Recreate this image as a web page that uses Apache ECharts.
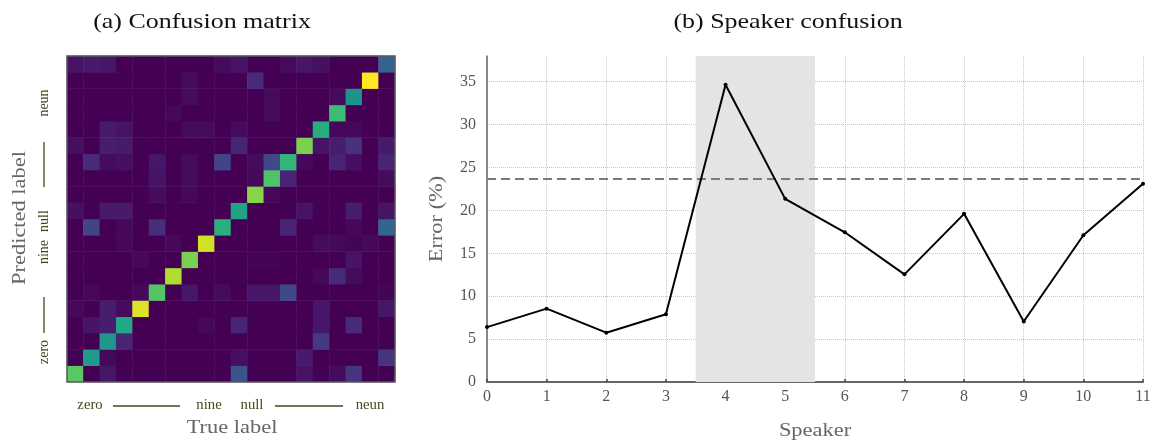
<!DOCTYPE html>
<html>
<head>
<meta charset="utf-8">
<style>
  html, body { margin: 0; padding: 0; background: #fff; }
  #chart { width: 1156px; height: 443px; }
</style>
<script src="https://cdn.jsdelivr.net/npm/echarts@6/dist/echarts.min.js"></script>
</head>
<body>
<div id="chart"></div>
<script>
// Confusion matrix: one row per predicted class (bottom row = class 0), one value per true class.
const confusionRows = [
  [0.74,0,0.06,0,0,0,0,0,0,0,0.26,0,0,0,0.05,0,0.03,0.15,0,0],
  [0,0.54,0.02,0,0,0,0,0,0,0,0.04,0,0,0,0.07,0,0,0,0,0.15],
  [0,0,0.52,0.1,0,0,0,0,0,0,0,0,0,0,0,0.17,0,0,0,0],
  [0,0.05,0.08,0.6,0,0,0,0,0.02,0,0.1,0,0,0,0,0.06,0,0.12,0,0],
  [0.02,0,0.08,0.03,0.95,0,0,0,0,0,0,0,0,0,0,0.06,0,0,0,0.06],
  [0,0.02,0,0,0.02,0.73,0,0.06,0,0.03,0,0.06,0.06,0.22,0,0,0,0,0,0.01],
  [0,0,0,0,0,0,0.88,0,0,0,0,0,0,0,0,0.02,0.12,0.03,0,0],
  [0,0,0,0,0.02,0,0,0.8,0,0,0,0.01,0.01,0,0,0,0,0.05,0,0],
  [0,0,0,0.02,0,0,0.02,0,0.93,0,0,0,0,0,0,0.03,0.02,0.01,0.02,0],
  [0,0.2,0,0.02,0,0.13,0,0,0,0.63,0,0,0,0.1,0,0,0,0.02,0,0.33],
  [0.04,0,0.07,0.07,0,0,0,0,0,0,0.58,0,0,0,0.05,0,0,0.08,0,0.05],
  [0,0,0,0,0,0.03,0,0.02,0,0,0,0.82,0.02,0,0,0,0,0,0,0],
  [0,0,0,0,0,0.05,0,0.03,0,0,0,0.02,0.72,0.1,0,0,0,0,0,0.03],
  [0,0.12,0.03,0.04,0,0.06,0,0.03,0,0.2,0,0.03,0.22,0.65,0.02,0,0.1,0.04,0,0.1],
  [0.04,0,0.08,0.07,0,0,0,0,0,0,0.1,0,0,0,0.8,0.05,0.08,0.14,0,0.07],
  [0,0,0.07,0.05,0,0,0,0.03,0.03,0,0.03,0,0,0,0,0.62,0.02,0.02,0,0],
  [0,0,0,0,0,0,0.02,0,0,0,0,0,0.03,0,0,0,0.68,0,0,0],
  [0,0,0,0,0,0,0,0.03,0,0,0,0,0.03,0,0,0,0.03,0.5,0,0],
  [0,0,0,0,0,0,0,0.03,0,0,0,0.12,0,0,0,0,0,0,1.0,0],
  [0.05,0.07,0.06,0,0,0,0,0,0,0.03,0.05,0,0,0.03,0.06,0.04,0,0,0,0.32]
];
const classNames = ['zero','nine','null','neun'];

// Speaker confusion
const speakers = [0,1,2,3,4,5,6,7,8,9,10,11];
const speakerError = [6.4,8.55,5.75,7.9,34.65,21.35,17.45,12.55,19.6,7.05,17.1,23.1];
const referenceError = 23.75;
const highlightSpeakers = [3.5, 5.5];
const errorTicks = [0,5,10,15,20,25,30,35];

const viridis = ['#440154','#482475','#414487','#355f8d','#2a788e','#21918c',
                 '#22a884','#44bf70','#7ad151','#bddf26','#fde725'];

const nClasses = confusionRows.length;
const classIdx = Array.from({length: nClasses}, (_, i) => String(i));
const heatData = [];
confusionRows.forEach((row, p) => row.forEach((v, t) => heatData.push([t, p, v])));

const serif = 'Liberation Serif';
const labelInk = '#46461f';
const greyInk = '#666';
const WIDE = 1.18;   // widen the serif glyphs a little along the reading direction

// Matrix panel geometry
const M = { left: 67, top: 56, width: 328, height: 326 };

function hLine(x1, x2, y) {
  return { type: 'line', silent: true, z: 10,
    shape: { x1, y1: y, x2, y2: y }, style: { stroke: labelInk, lineWidth: 1.3 } };
}
function vLine(x, y1, y2) {
  return { type: 'line', silent: true, z: 10,
    shape: { x1: x, y1, x2: x, y2 }, style: { stroke: labelInk, lineWidth: 1.3 } };
}
function txt(text, x, y, size, fill, rotated, widen) {
  return { type: 'text', silent: true, z: 10, x, y,
    rotation: rotated ? Math.PI / 2 : 0, scaleX: widen || WIDE, scaleY: 1,
    style: { text, align: 'center', verticalAlign: 'middle',
      font: size + 'px "' + serif + '"', fill } };
}

const chart = echarts.init(document.getElementById('chart'), null, { renderer: 'canvas' });
chart.setOption({
  animation: false,
  backgroundColor: '#fff',
  grid: [
    { left: M.left, top: M.top, width: M.width, height: M.height },
    { left: 487, right: 13, top: 56, bottom: 61 }
  ],
  visualMap: {
    show: false, seriesIndex: 0, min: 0, max: 1,
    inRange: { color: viridis }
  },
  xAxis: [
    { type: 'category', gridIndex: 0, data: classIdx, show: false },
    { type: 'value', gridIndex: 1, min: 0, max: 11, interval: 1,
      axisLine: { show: true, lineStyle: { color: '#666', width: 2 } },
      axisTick: { show: true, inside: true, length: 3, lineStyle: { color: '#444', width: 1.5 } },
      axisLabel: { fontFamily: serif, fontSize: 16, color: '#555', margin: 7 },
      splitLine: { show: true, lineStyle: { color: '#c8c8c8', type: 'dotted', width: 1 } }
    }
  ],
  yAxis: [
    { type: 'category', gridIndex: 0, data: classIdx, show: false },
    { type: 'value', gridIndex: 1, min: 0, max: 38, interval: 5,
      axisLine: { show: true, lineStyle: { color: '#666', width: 1.5 } },
      axisTick: { show: false },
      axisLabel: { fontFamily: serif, fontSize: 16, color: '#555', margin: 11,
        showMaxLabel: false,
        formatter: v => (errorTicks.indexOf(v) >= 0 ? String(v) : '') },
      splitLine: { show: true, showMaxLine: false,
        lineStyle: { color: '#c8c8c8', type: 'dotted', width: 1 } }
    }
  ],
  series: [
    {
      type: 'heatmap', xAxisIndex: 0, yAxisIndex: 0,
      data: heatData, silent: true,
      itemStyle: { borderWidth: 0 },
      emphasis: { disabled: true }
    },
    {
      type: 'line', xAxisIndex: 1, yAxisIndex: 1,
      data: speakers.map((s, i) => [s, speakerError[i]]),
      symbol: 'circle', symbolSize: 4, showSymbol: true,
      lineStyle: { color: '#000', width: 2 },
      itemStyle: { color: '#000' },
      silent: true, z: 5,
      markArea: {
        silent: true,
        itemStyle: { color: '#e4e4e4' },
        data: [[{ xAxis: highlightSpeakers[0] }, { xAxis: highlightSpeakers[1] }]]
      },
      markLine: {
        silent: true, symbol: 'none', label: { show: false },
        lineStyle: { color: '#7a7a7a', type: [9, 5], width: 2 },
        data: [{ yAxis: referenceError }]
      }
    }
  ],
  graphic: [
    // panel titles
    txt('(a) Confusion matrix', 202, 22, 22, '#111'),
    txt('(b) Speaker confusion', 788, 22, 22, '#111'),
    // frame around the matrix
    { type: 'rect', silent: true, z: 20,
      shape: { x: M.left, y: M.top, width: M.width, height: M.height },
      style: { fill: 'none', stroke: '#5c5c5c', lineWidth: 1.5 } },
    // true-label ticks along the bottom
    txt(classNames[0], 90, 405, 14, labelInk, false, 1.05),
    hLine(113, 180, 406),
    txt(classNames[1], 209, 405, 14, labelInk, false, 1.05),
    txt(classNames[2], 252, 405, 14, labelInk, false, 1.05),
    hLine(275, 343, 406),
    txt(classNames[3], 370, 405, 14, labelInk, false, 1.05),
    txt('True label', 232, 428, 19, greyInk),
    // predicted-label ticks along the left side
    txt(classNames[0], 44, 352, 14, labelInk, true, 1),
    vLine(44, 297, 333),
    txt(classNames[1], 44, 252, 14, labelInk, true, 1),
    txt(classNames[2], 44, 221, 14, labelInk, true, 1),
    vLine(44, 142, 187),
    txt(classNames[3], 44, 103, 14, labelInk, true, 1),
    txt('Predicted label', 20, 218, 19, greyInk, true),
    // speaker panel axis names
    txt('Speaker', 815, 431, 19, greyInk),
    txt('Error (%)', 437, 219, 19, greyInk, true)
  ]
});
</script>
</body>
</html>
